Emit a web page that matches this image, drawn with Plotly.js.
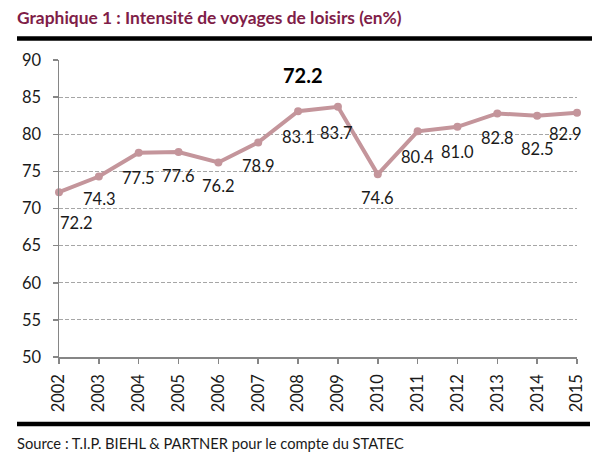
<!DOCTYPE html>
<html>
<head>
<meta charset="utf-8">
<script src="https://cdn.plot.ly/plotly-3.0.1.min.js"></script>
<style>
html,body{margin:0;padding:0;background:#fff;}
#chart{width:600px;height:465px;}
</style>
</head>
<body>
<div id="chart"></div>
<script>
// ---- Data ----
const years = [2002, 2003, 2004, 2005, 2006, 2007, 2008, 2009, 2010, 2011, 2012, 2013, 2014, 2015];
const yearLabels = ["2002","2003","2004","2005","2006","2007","2008","2009","2010","2011","2012","2013","2014","2015"];
const values = [72.2, 74.3, 77.5, 77.6, 76.2, 78.9, 83.1, 83.7, 74.6, 80.4, 81.0, 82.8, 82.5, 82.9];
const yTicks = [50, 55, 60, 65, 70, 75, 80, 85, 90];
const titleText = "Graphique 1 : Intensité de voyages de loisirs (en%)";
const sourceText = "Source : T.I.P. BIEHL & PARTNER pour le compte du STATEC";

// ---- Label placement (pixel offsets, style only) ----
const labelDx = [17, 1, 0, 0, 0, 0, 0, -1, 0, 0, 0, 0, 0, -12];
const labelDy = [31, 22, 25, 24, 24, 24, 26, 26, 24, 26, 25, 25, 33, 21];

const FONT = "Lato, 'Open Sans', 'Liberation Sans', sans-serif";
const lineColor = "#c4959b";

const plotL = 59, plotR = 577, plotT = 59.5, plotB = 357;
const W = plotR - plotL, H = plotB - plotT;
const px = x => (x - plotL) / W;
const py = y => (plotB - y) / H;

const annotations = values.map((v, i) => ({
  x: years[i], y: v, xref: 'x', yref: 'y',
  text: v.toFixed(1), showarrow: false,
  xanchor: 'center', yanchor: 'middle',
  xshift: labelDx[i], yshift: -labelDy[i],
  font: {family: FONT, size: 16.5, color: '#1a1a1a'}
}));

annotations.push({
  x: px(303), y: py(75), xref: 'paper', yref: 'paper',
  text: '<b>' + values[0].toFixed(1) + '</b>', showarrow: false,
  xanchor: 'center', yanchor: 'middle',
  font: {family: FONT, size: 20, color: '#000'}
});

annotations.push({
  x: px(17), y: py(443), xref: 'paper', yref: 'paper',
  text: sourceText, showarrow: false,
  xanchor: 'left', yanchor: 'middle', xshift: -2,
  font: {family: FONT, size: 14.7, color: '#1a1a1a'}
});

const shapes = [
  {type: 'line', xref: 'paper', yref: 'paper', x0: px(17), x1: px(592), y0: py(38), y1: py(38),
   line: {color: '#000', width: 4.5}},
  {type: 'line', xref: 'paper', yref: 'paper', x0: px(17), x1: px(590), y0: py(424), y1: py(424),
   line: {color: '#000', width: 4.5}}
];

const trace = {
  x: years, y: values, type: 'scatter', mode: 'lines+markers',
  line: {color: lineColor, width: 4},
  marker: {color: lineColor, size: 8},
  cliponaxis: false, hoverinfo: 'skip'
};

const layout = {
  width: 600, height: 465,
  margin: {l: plotL, r: 600 - plotR, t: plotT, b: 465 - plotB, pad: 0},
  paper_bgcolor: '#fff', plot_bgcolor: '#fff',
  showlegend: false,
  title: {
    text: titleText, xref: 'container', yref: 'container',
    x: 17 / 600, xanchor: 'left', y: 1 - 18 / 465, yanchor: 'middle',
    font: {family: FONT, size: 17.4, color: '#7f1d48', weight: 'bold'}
  },
  xaxis: {
    type: 'linear', range: [years[0], years[years.length - 1]],
    tickvals: years, ticktext: yearLabels,
    showgrid: false, zeroline: false,
    showline: true, linecolor: '#868686', linewidth: 1.5,
    ticks: 'outside', ticklen: 5, tickcolor: '#868686', tickwidth: 1.5,
    tickangle: -90, tickfont: {family: FONT, size: 16.5, color: '#1a1a1a'},
    ticklabelstandoff: 4
  },
  yaxis: {
    range: [50, 90], tickvals: yTicks, ticktext: yTicks.map(String),
    showgrid: true, gridcolor: '#a6a6a6', gridwidth: 1, griddash: '4px,2px',
    zeroline: false,
    showline: true, linecolor: '#868686', linewidth: 1.5,
    ticks: 'outside', ticklen: 5, tickcolor: '#868686', tickwidth: 1.5,
    tickfont: {family: FONT, size: 16.5, color: '#1a1a1a'},
    ticklabelstandoff: 8
  },
  annotations: annotations,
  shapes: shapes
};

Plotly.newPlot('chart', [trace], layout, {displayModeBar: false, staticPlot: true});
</script>
</body>
</html>
